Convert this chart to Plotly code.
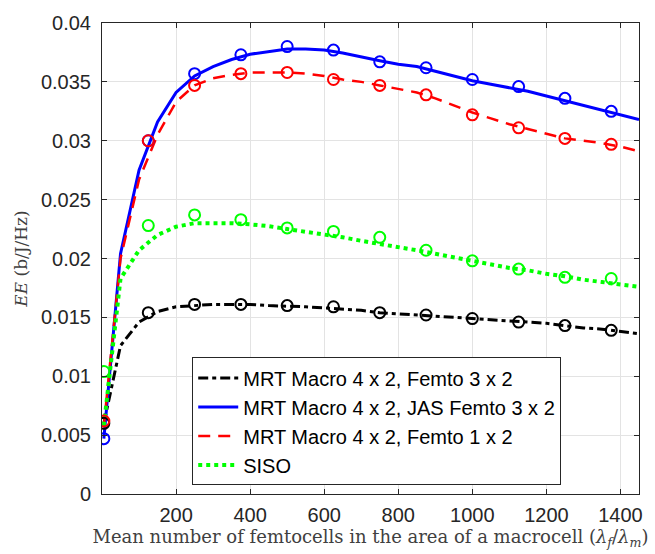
import plotly.graph_objects as go

# ---- data ----
x_line = [5, 50, 100, 150, 200, 250, 300, 350, 400, 450, 500, 550, 600, 650, 700,
          750, 800, 850, 900, 950, 1000, 1050, 1100, 1150, 1200, 1250, 1300, 1350, 1400, 1450]

black_line = [0.0060, 0.0126, 0.0146, 0.0155, 0.0159, 0.0160, 0.0161, 0.0161, 0.0161, 0.0160,
              0.01597, 0.0159, 0.0158, 0.0157, 0.0156, 0.0154, 0.0153, 0.01525, 0.0151, 0.0150,
              0.0149, 0.0148, 0.0147, 0.0146, 0.0145, 0.0143, 0.0141, 0.0140, 0.0138, 0.0136]
blue_line = [0.0047, 0.0204, 0.0275, 0.0316, 0.0341, 0.0355, 0.0363, 0.0369, 0.03735, 0.0376,
             0.0378, 0.0378, 0.0377, 0.03745, 0.0371, 0.0368, 0.0365, 0.0363, 0.0359, 0.0355,
             0.0351, 0.0348, 0.0345, 0.0342, 0.0338, 0.0334, 0.0330, 0.0326, 0.0322, 0.0318]
red_line = [0.0058, 0.0200, 0.0267, 0.0305, 0.0333, 0.0347, 0.0353, 0.0356, 0.0358, 0.0358,
            0.0358, 0.0357, 0.0355, 0.0352, 0.0350, 0.0347, 0.0344, 0.0341, 0.0336, 0.0330,
            0.0324, 0.0319, 0.0314, 0.0310, 0.0306, 0.0302, 0.0300, 0.0298, 0.0295, 0.0291]
green_line = [0.0058, 0.0183, 0.0207, 0.0220, 0.0227, 0.0230, 0.0230, 0.0230, 0.0229, 0.02275,
              0.0225, 0.02228, 0.0220, 0.0218, 0.0215, 0.02125, 0.0210, 0.0207, 0.0204, 0.0201,
              0.0198, 0.0195, 0.0192, 0.0190, 0.0187, 0.0185, 0.0182, 0.0180, 0.0178, 0.0176]

x_mark = [5, 125, 250, 375, 500, 625, 750, 875, 1000, 1125, 1250, 1375]
black_mark = [0.0060, 0.0154, 0.0161, 0.0161, 0.0160, 0.0159, 0.0154, 0.0152, 0.0149, 0.0146, 0.0143, 0.0139]
blue_mark = [0.0047, 0.0300, 0.0357, 0.0373, 0.0380, 0.0377, 0.0367, 0.0362, 0.0352, 0.0346, 0.0336, 0.0325]
red_mark = [0.0062, 0.0300, 0.0347, 0.0357, 0.0358, 0.0352, 0.0347, 0.0339, 0.0322, 0.0311, 0.0302, 0.0297]
green_mark = [0.0104, 0.0228, 0.0237, 0.0233, 0.0226, 0.0223, 0.0218, 0.0207, 0.0198, 0.0191, 0.0184, 0.0183]

names = ["MRT Macro 4 x 2, Femto 3 x 2",
         "MRT Macro 4 x 2, JAS Femto 3 x 2",
         "MRT Macro 4 x 2, Femto 1 x 2",
         "SISO"]

x_ticks = [200, 400, 600, 800, 1000, 1200, 1400]
y_ticks = [0, 0.005, 0.01, 0.015, 0.02, 0.025, 0.03, 0.035, 0.04]
y_ticktext = ["0", "0.005", "0.01", "0.015", "0.02", "0.025", "0.03", "0.035", "0.04"]

# ---- figure ----
series = [
    (black_line, black_mark, "#000000", "10px,4px,4px,4px", 3),
    (blue_line, blue_mark, "#0000ff", "solid", 3),
    (red_line, red_mark, "#ff0000", "12px,8px", 2.5),
    (green_line, green_mark, "#00ff00", "4px,4px", 4),
]

fig = go.Figure()
for (yl, ym, col, dash, w), nm in zip(series, names):
    fig.add_trace(go.Scatter(x=x_line, y=yl, mode="lines", name=nm,
                             line=dict(color=col, width=w, dash=dash)))
for (yl, ym, col, dash, w), nm in zip(series, names):
    fig.add_trace(go.Scatter(x=x_mark, y=ym, mode="markers", showlegend=False,
                             marker=dict(symbol="circle-open", size=11, color=col,
                                         line=dict(width=2, color=col))))

axis_common = dict(showline=True, linecolor="#262626", linewidth=1, mirror="ticks",
                   ticks="inside", ticklen=5, tickcolor="#262626",
                   showgrid=True, gridcolor="#e3e3e3", gridwidth=1, zeroline=False,
                   tickfont=dict(family="Liberation Sans, Arial", size=20, color="#262626"))

fig.update_layout(
    width=655, height=554,
    margin=dict(l=102, r=14, t=16, b=57),
    paper_bgcolor="white", plot_bgcolor="white",
    xaxis=dict(range=[0, 1450], tickvals=x_ticks,
               title=dict(text="Mean number of femtocells in the area of a macrocell (<i>λ<sub>f</sub></i>/<i>λ<sub>m</sub></i>)",
                          font=dict(family="DejaVu Serif, serif", size=18, color="#404040"),
                          standoff=3),
               ticklabelstandoff=3,
               **axis_common),
    yaxis=dict(range=[0, 0.04], tickvals=y_ticks, ticktext=y_ticktext,
               title=dict(text="<i>EE</i> (b/J/Hz)",
                          font=dict(family="DejaVu Serif, serif", size=17, color="#404040"),
                          standoff=8),
               ticklabelstandoff=6,
               **axis_common),
    legend=dict(x=0.168, y=0.29, xanchor="left", yanchor="top",
                bgcolor="white", bordercolor="#262626", borderwidth=1,
                font=dict(family="Liberation Sans, Arial", size=20, color="#000000"),
                tracegroupgap=0, itemwidth=40),
    showlegend=True,
)

fig.write_html("out.html")
